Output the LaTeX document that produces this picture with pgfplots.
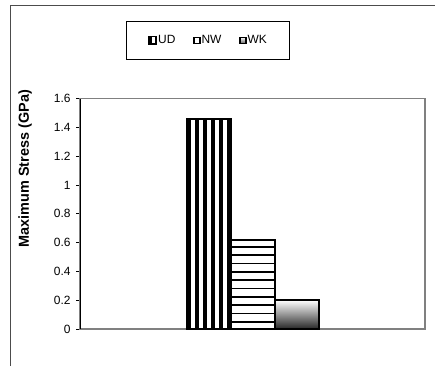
\documentclass[border=0pt]{standalone}
\usepackage{fontspec}
\setmainfont{Liberation Sans}
\usepackage{pgfplots}
\pgfplotsset{compat=1.18}
\begin{document}
\begin{tikzpicture}[x=1bp,y=1bp]
\path[use as bounding box] (0,0) rectangle (435,366);
\draw[black!70, line width=1bp] (10,0) -- (10,360.5) -- (435,360.5);
\begin{axis}[
  at={(80bp,37bp)}, anchor=south west,
  scale only axis, width=345bp, height=230.5bp,
  xmin=-1, xmax=1, ymin=0, ymax=1.6,
  xtick=\empty,
  ytick={0,0.2,...,1.6},
  yticklabel style={/pgf/number format/fixed, /pgf/number format/precision=1, font=\fontsize{12}{14}\selectfont, xshift=-2bp},
  /pgf/number format/assume math mode=true,
  axis line style={black!50, line width=1.2bp},
  tick style={black, line width=0.8bp},
  tick align=outside, major tick length=4bp,
  ytick pos=left,
  ylabel={\bfseries Maximum Stress (GPa)},
  ylabel style={at={(axis description cs:-0.159,0.695)}, anchor=center, font=\fontsize{14.5}{16}\selectfont},
  legend columns=3,
  legend style={at={(axis description cs:0.371,1.2516)}, anchor=center,
    draw=black, line width=0.8bp, inner xsep=22bp, inner ysep=12bp,
    font=\fontsize{12}{14}\selectfont,
    /tikz/every even column/.append style={column sep=17bp},
    nodes={inner xsep=1bp}},
  unbounded coords=jump,
]
% UD bar
\addplot[ybar, bar width=44bp, bar shift=-44bp, draw=black, line width=2bp, fill=white,
  legend image code/.code={\fill[black] (0bp,-3.2bp) rectangle (7bp,3.8bp); \fill[white] (4.2bp,-1.6bp) rectangle (5.2bp,2.2bp);}]
  coordinates {(0,1.46)};
\addlegendentry{UD}
\foreach \s in {-64,-56,-48,-40,-32,-24}{
  \edef\tmp{\noexpand\addplot[ybar, forget plot, bar width=4bp, bar shift=\s bp, draw=none, fill=black] coordinates {(0,1.46)};}
  \tmp
}
% NW bar
\addplot[ybar, bar width=44bp, bar shift=0bp, draw=black, line width=2bp, fill=white,
  legend image code/.code={\draw[black, line width=1.1bp, fill=white] (0.5bp,-2.7bp) rectangle (6.5bp,3.3bp);}]
  coordinates {(0,0.62)};
\addlegendentry{NW}
\addplot[forget plot, black, line width=1.7bp, line cap=butt] coordinates {
  (-0.1275,0.051) (0.1275,0.051) (nan,nan)
  (-0.1275,0.108) (0.1275,0.108) (nan,nan)
  (-0.1275,0.166) (0.1275,0.166) (nan,nan)
  (-0.1275,0.224) (0.1275,0.224) (nan,nan)
  (-0.1275,0.282) (0.1275,0.282) (nan,nan)
  (-0.1275,0.340) (0.1275,0.340) (nan,nan)
  (-0.1275,0.398) (0.1275,0.398) (nan,nan)
  (-0.1275,0.455) (0.1275,0.455) (nan,nan)
  (-0.1275,0.513) (0.1275,0.513) (nan,nan)
  (-0.1275,0.571) (0.1275,0.571)
};
\addplot[ybar, bar width=44bp, bar shift=0bp, forget plot, draw=black, line width=2bp, fill=none] coordinates {(0,0.62)};
% WK bar
\addplot[ybar, bar width=44bp, bar shift=44bp, draw=black, line width=2bp, top color=white, middle color=white!82!black, bottom color=black!85,
  legend image code/.code={\draw[black, line width=1.1bp, top color=white, bottom color=black!60] (0.5bp,-2.7bp) rectangle (6.5bp,3.3bp);}]
  coordinates {(0,0.20)};
\addlegendentry{WK}
\draw[black, line width=1.2bp] (rel axis cs:0,0) -- (rel axis cs:0,1);
\end{axis}
\end{tikzpicture}
\end{document}
